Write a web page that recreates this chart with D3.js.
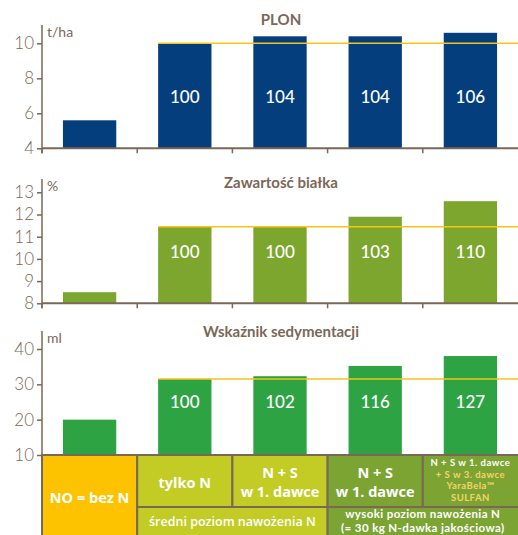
<!DOCTYPE html>
<html><head><meta charset="utf-8">
<script src="https://cdn.jsdelivr.net/npm/d3@7"></script>
<style>
html,body{margin:0;padding:0;background:#fff;}
svg{display:block;font-family:Lato,"Open Sans",sans-serif;}
</style></head>
<body>
<script>
const categories = ["N0", "tylko N", "N+S 1", "N+S 2", "SULFAN"];
const plonValues = [5.6, 10.0, 10.4, 10.4, 10.6];
const plonLabels = ["", "100", "104", "104", "106"];
const plonRef = 10.0;
const plonTicks = [4, 6, 8, 10];
const bialkoValues = [8.5, 11.45, 11.45, 11.9, 12.6];
const bialkoLabels = ["", "100", "100", "103", "110"];
const bialkoRef = 11.45;
const bialkoTicks = [8, 9, 10, 11, 12, 13];
const sedValues = [20, 31.5, 32.3, 35.2, 38.0];
const sedLabels = ["", "100", "102", "116", "127"];
const sedRef = 31.5;
const sedTicks = [10, 20, 30, 40];

const W = 518, H = 535;
const BROWN = "#7b6757";
const TFONT = "'Open Sans', Lato, sans-serif";
const LFONT = "Lato, 'Open Sans', sans-serif";
const svg = d3.select("body").append("svg").attr("width", W).attr("height", H);

const x0 = 42, x1 = 518;
const x = d3.scaleBand().domain(categories).range([x0, x1]).paddingInner(0.44).paddingOuter(0.22);
const step = x.step();
const bandStart = c => x(c) - step * 0.22;

const panels = [
  {title: "PLON", unit: "t/ha", values: plonValues, labels: plonLabels, ref: plonRef, ticks: plonTicks,
   domain: [4, 10], range: [148.3, 43.3], top: 25, color: "#043e7c", titleY: 25, labelY: 96},
  {title: "Zawartość białka", unit: "%", values: bialkoValues, labels: bialkoLabels, ref: bialkoRef, ticks: bialkoTicks,
   domain: [8, 13], range: [303.3, 192.3], top: 179, color: "#7da62f", titleY: 188, labelY: 251},
  {title: "Wskaźnik sedymentacji", unit: "ml", values: sedValues, labels: sedLabels, ref: sedRef, ticks: sedTicks,
   domain: [10, 40], range: [455, 349], top: 331, color: "#2ea343", titleY: 337, labelY: 401, noBottomTicks: true}
];

panels.forEach(p => {
  const y = d3.scaleLinear().domain(p.domain).range(p.range);
  const g = svg.append("g");
  g.selectAll("rect.bar").data(categories).join("rect")
    .attr("x", c => x(c)).attr("width", x.bandwidth())
    .attr("y", (c, i) => y(p.values[i]))
    .attr("height", (c, i) => y(p.domain[0]) - y(p.values[i]))
    .attr("fill", p.color);
  g.append("line")
    .attr("x1", x(categories[1])).attr("x2", x1)
    .attr("y1", y(p.ref)).attr("y2", y(p.ref))
    .attr("stroke", "#f5c518").attr("stroke-width", 1.6);
  g.selectAll("text.val").data(categories).join("text")
    .attr("x", c => x(c) + x.bandwidth() / 2)
    .attr("y", p.labelY)
    .attr("text-anchor", "middle").attr("dominant-baseline", "central")
    .attr("fill", "#fff").attr("font-size", 17).attr("font-weight", 500)
    .text((c, i) => p.labels[i]);
  const ax = g.append("g").attr("transform", `translate(${x0},0)`)
    .call(d3.axisLeft(y).tickValues(p.ticks).tickSize(5).tickPadding(3).tickFormat(d3.format("d")));
  ax.select(".domain").remove();
  ax.selectAll(".tick line").attr("stroke", BROWN).attr("stroke-width", 1.5);
  ax.selectAll(".tick text").attr("fill", BROWN).attr("font-size", 17).attr("font-weight", 300)
    .attr("font-family", LFONT);
  g.append("line").attr("x1", x0).attr("x2", x0).attr("y1", p.top).attr("y2", p.noBottomTicks ? H : y(p.domain[0]) + 5)
    .attr("stroke", BROWN).attr("stroke-width", 1.5);
  g.append("line").attr("x1", x0).attr("x2", x1).attr("y1", y(p.domain[0])).attr("y2", y(p.domain[0]))
    .attr("stroke", BROWN).attr("stroke-width", 2);
  if (!p.noBottomTicks) {
    g.selectAll("line.ct").data(categories).join("line")
      .attr("x1", c => bandStart(c)).attr("x2", c => bandStart(c))
      .attr("y1", y(p.domain[0])).attr("y2", y(p.domain[0]) + 5)
      .attr("stroke", BROWN).attr("stroke-width", 1.5);
  }
  g.append("text").attr("x", 47).attr("y", p.top + 12).attr("fill", BROWN)
    .attr("font-size", 14).attr("font-weight", 400).text(p.unit);
  g.append("text").attr("x", 281).attr("y", p.titleY).attr("text-anchor", "middle")
    .attr("fill", BROWN).attr("font-size", 15).attr("font-weight", 700).text(p.title);
});

// ---- bottom table ----
const tTop = 455, tMid = 507, tBot = 536;
const cYellow = "#fdc300", cLime = "#c2cc25", cDark = "#7ba433";
const cells = [
  {x0: bandStart(categories[0]), x1: bandStart(categories[1]), y0: tTop, y1: tBot, fill: cYellow},
  {x0: bandStart(categories[1]), x1: bandStart(categories[2]), y0: tTop, y1: tMid, fill: cLime},
  {x0: bandStart(categories[2]), x1: bandStart(categories[3]), y0: tTop, y1: tMid, fill: cLime},
  {x0: bandStart(categories[3]), x1: bandStart(categories[4]), y0: tTop, y1: tMid, fill: cDark},
  {x0: bandStart(categories[4]), x1: x1 + 2, y0: tTop, y1: tMid, fill: cDark},
  {x0: bandStart(categories[1]), x1: bandStart(categories[3]), y0: tMid, y1: tBot, fill: cLime},
  {x0: bandStart(categories[3]), x1: x1 + 2, y0: tMid, y1: tBot, fill: cDark}
];
svg.append("g").selectAll("rect").data(cells).join("rect")
  .attr("x", d => d.x0).attr("y", d => d.y0)
  .attr("width", d => d.x1 - d.x0).attr("height", d => d.y1 - d.y0)
  .attr("fill", d => d.fill).attr("stroke", BROWN).attr("stroke-width", 2);

function txt(xc, yc, s, size, fill, weight, font, ls) {
  svg.append("text").attr("x", xc).attr("y", yc).attr("text-anchor", "middle")
    .attr("dominant-baseline", "central").attr("fill", fill || "#fff")
    .attr("font-family", font || TFONT)
    .attr("letter-spacing", ls || 0)
    .attr("font-size", size).attr("font-weight", weight || 700).text(s);
}
const mid = i => bandStart(categories[i]) + step / 2;
txt(mid(0), 497, "NO = bez N", 14.5);
txt(mid(1), 482, "tylko N", 14.5);
txt(mid(2), 472, "N + S", 14.5);
txt(mid(2), 491, "w 1. dawce", 14.5);
txt(mid(3), 472, "N + S", 14.5);
txt(mid(3), 491, "w 1. dawce", 14.5);
txt(mid(4), 462.5, "N + S w 1. dawce", 9.5, "#fff", 700, LFONT, 0.5);
txt(mid(4), 474.2, "+ S w 3. dawce", 9.5, "#f7d36a", 700, LFONT, 0.5);
txt(mid(4), 485.9, "YaraBela™", 9.5, "#f7d36a", 700, LFONT, 0.5);
txt(mid(4), 497.6, "SULFAN", 9.5, "#f7d36a", 700, LFONT, 0.5);
txt(bandStart(categories[2]), 521, "średni poziom nawożenia N", 12.5, "#fff", 600);
txt((bandStart(categories[3]) + x1) / 2, 513.6, "wysoki poziom nawożenia N", 11.5, "#fff", 700, LFONT, 0.4);
txt((bandStart(categories[3]) + x1) / 2, 527.6, "(= 30 kg N-dawka jakościowa)", 11.5, "#fff", 700, LFONT, 0.4);
</script>
</body></html>
